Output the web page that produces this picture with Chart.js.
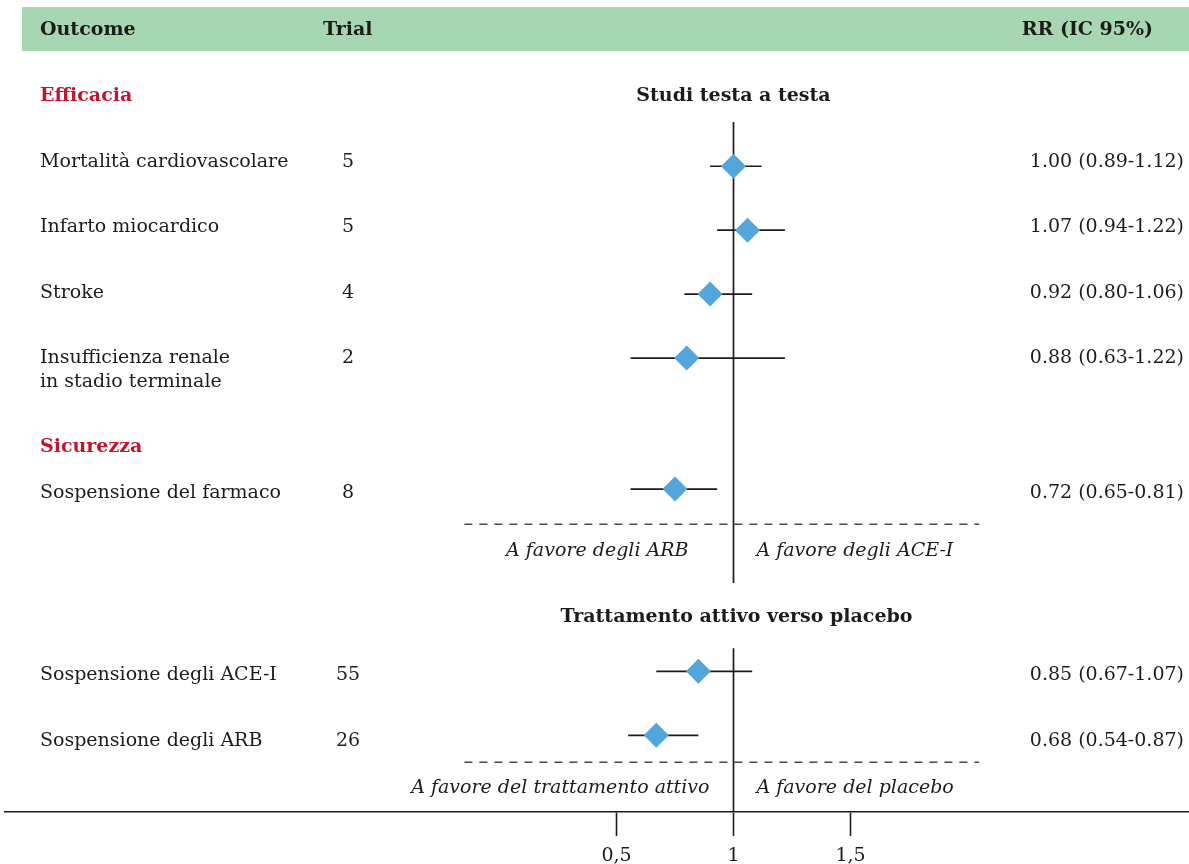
<!DOCTYPE html>
<html>
<head>
<meta charset="utf-8">
<script src="https://cdn.jsdelivr.net/npm/chart.js@4.4.1/dist/chart.umd.min.js"></script>
<style>
  html, body { margin: 0; padding: 0; background: #fff; }
  #wrap { width: 1189px; height: 864px; }
</style>
</head>
<body>
<div id="wrap"><canvas id="forest" width="1189" height="864"></canvas></div>
<script>
// Data
const outcomes = [
    'Mortalità cardiovascolare',
    'Infarto miocardico',
    'Stroke',
    'Insufficienza renale\nin stadio terminale',
    'Sospensione del farmaco',
    'Sospensione degli ACE-I',
    'Sospensione degli ARB'
];
const trials = [5, 5, 4, 2, 8, 55, 26];
const rrLabels = [
    '1.00 (0.89-1.12)',
    '1.07 (0.94-1.22)',
    '0.92 (0.80-1.06)',
    '0.88 (0.63-1.22)',
    '0.72 (0.65-0.81)',
    '0.85 (0.67-1.07)',
    '0.68 (0.54-0.87)'
];
// point estimates and CI ends as plotted
const estimates = [1.00, 1.06, 0.90, 0.80, 0.75, 0.85, 0.67];
const ciLow = [0.90, 0.93, 0.79, 0.56, 0.56, 0.67, 0.55];
const ciHigh = [1.12, 1.22, 1.08, 1.22, 0.93, 1.08, 0.85];
const xTicks = [0.5, 1, 1.5];

const headers = ['Outcome', 'Trial', 'RR (IC 95%)'];
const sections = ['Efficacia', 'Sicurezza'];
const panels = ['Studi testa a testa', 'Trattamento attivo verso placebo'];
const favourLeft = ['A favore degli ARB', 'A favore del trattamento attivo'];
const favourRight = ['A favore degli ACE-I', 'A favore del placebo'];

// Layout
const markRows = [1, 2, 3, 4, 6.05, 8.9, 9.9];        // row units on the y scale
const refSegments = [[0.31, 7.52], [8.54, 11.1]];    // x=1 line, row units
const dashRows = [6.6, 10.32];
const dashSpan = [-0.15, 2.05];
const textBase = [167, 232, 298, 363, 498, 680, 746]; // text baselines, px
const sectionBase = [101, 452];
const panelBase = [101, 622];
const favourBase = [556, 793];
const favourLeftGap = [45, 24];

const FONT = '"DejaVu Serif", "Liberation Serif", serif';
const INK = '#1f1b1c';
const RED = '#c1172e';
const BLUE = '#52a6db';
const BAND = '#a6d6b2';

const datasets = [];

datasets.push({
    type: 'scatter',
    data: estimates.map((v, i) => ({ x: v, y: markRows[i] })),
    pointStyle: 'rectRot',
    pointRadius: 12.5,
    pointHoverRadius: 12.5,
    backgroundColor: BLUE,
    borderWidth: 0
});

estimates.forEach((v, i) => {
    datasets.push({
        type: 'line',
        data: [{ x: ciLow[i], y: markRows[i] }, { x: ciHigh[i], y: markRows[i] }],
        borderColor: INK,
        borderWidth: 1.7,
        pointRadius: 0
    });
});

refSegments.forEach(seg => {
    datasets.push({
        type: 'line',
        data: [{ x: 1, y: seg[0] }, { x: 1, y: seg[1] }],
        borderColor: INK,
        borderWidth: 1.7,
        pointRadius: 0
    });
});

dashRows.forEach(r => {
    datasets.push({
        type: 'line',
        data: [{ x: dashSpan[0], y: r }, { x: dashSpan[1], y: r }],
        borderColor: '#4a4a4a',
        borderWidth: 1.5,
        borderDash: [8, 7],
        pointRadius: 0
    });
});

const textPlugin = {
    id: 'forestText',
    beforeDraw(chart) {
        const ctx = chart.ctx;
        ctx.save();
        ctx.fillStyle = BAND;
        ctx.fillRect(22, 7, chart.width - 22, 44);
        ctx.restore();
    },
    afterDraw(chart) {
        const ctx = chart.ctx;
        const x1 = chart.scales.x.getPixelForValue(1);
        ctx.save();
        ctx.textBaseline = 'alphabetic';
        ctx.fillStyle = INK;

        // header band
        ctx.font = 'bold 19px ' + FONT;
        ctx.textAlign = 'left';
        ctx.fillText(headers[0], 40, 35);
        ctx.fillText(headers[1], 323, 35);
        ctx.textAlign = 'right';
        ctx.fillText(headers[2], 1153, 35);

        // panel titles
        ctx.textAlign = 'center';
        ctx.fillText(panels[0], x1, panelBase[0]);
        ctx.fillText(panels[1], x1 + 3, panelBase[1]);

        // section titles
        ctx.fillStyle = RED;
        ctx.textAlign = 'left';
        sections.forEach((s, i) => ctx.fillText(s, 40, sectionBase[i]));

        // rows
        ctx.fillStyle = INK;
        ctx.font = '19px ' + FONT;
        outcomes.forEach((o, i) => {
            ctx.textAlign = 'left';
            o.split('\n').forEach((line, k) => ctx.fillText(line, 40, textBase[i] + k * 24));
            ctx.textAlign = 'center';
            ctx.fillText(String(trials[i]), 348, textBase[i]);
            ctx.textAlign = 'right';
            ctx.fillText(rrLabels[i], 1184, textBase[i]);
        });

        // favour labels
        ctx.font = 'italic 19px ' + FONT;
        favourLeft.forEach((t, i) => {
            ctx.textAlign = 'right';
            ctx.fillText(t, x1 - favourLeftGap[i], favourBase[i]);
            ctx.textAlign = 'left';
            ctx.fillText(favourRight[i], x1 + 23, favourBase[i]);
        });
        ctx.restore();
    }
};

new Chart(document.getElementById('forest'), {
    type: 'scatter',
    data: { datasets: datasets },
    options: {
        responsive: false,
        animation: false,
        events: [],
        layout: { autoPadding: false, padding: { left: 5, right: 0, top: 0, bottom: 0 } },
        plugins: {
            legend: { display: false },
            tooltip: { enabled: false }
        },
        scales: {
            x: {
                type: 'linear',
                position: 'bottom',
                min: -2.1132,
                max: 2.9466,
                afterBuildTicks: scale => { scale.ticks = xTicks.map(v => ({ value: v })); },
                afterFit: scale => { scale.height = 52; },
                ticks: {
                    color: INK,
                    padding: 9,
                    autoSkip: false,
                    maxRotation: 0,
                    font: { family: FONT, size: 19 },
                    callback: v => String(v).replace('.', ',')
                },
                grid: {
                    drawOnChartArea: false,
                    drawTicks: true,
                    tickLength: 24,
                    tickWidth: 1.6,
                    tickColor: INK
                },
                border: { display: true, color: INK, width: 1.6 }
            },
            y: {
                type: 'linear',
                display: false,
                reverse: true,
                min: -1.6,
                max: 11.1
            }
        }
    },
    plugins: [textPlugin]
});
</script>
</body>
</html>
